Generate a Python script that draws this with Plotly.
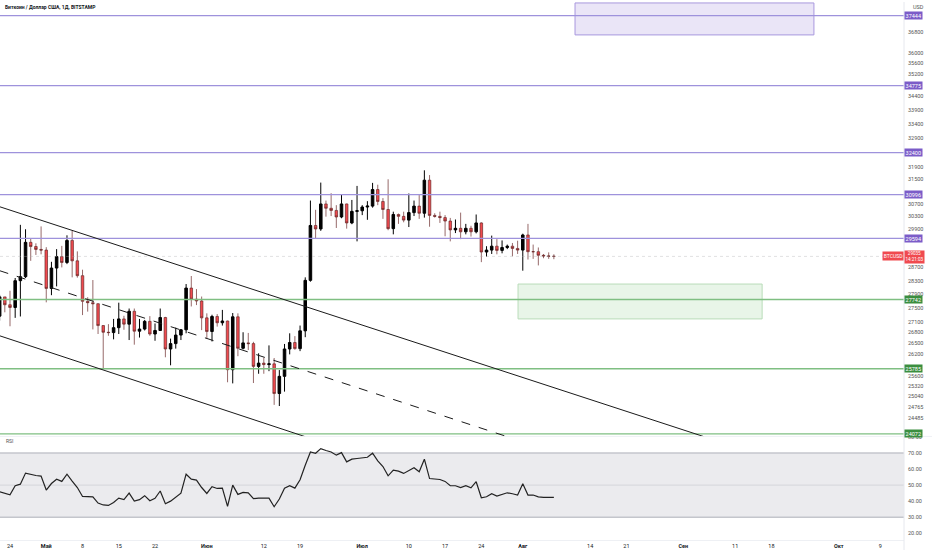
import numpy as np
import pandas as pd
import plotly.graph_objects as go

# ---- data (BTC/USD daily, Bitstamp) ----
dates = pd.date_range("2023-04-22", "2023-08-07", freq="D")

opens = [
    27260, 27820, 27590, 27510, 28300, 28420, 29470, 29340, 29250,
    29230, 28070, 28680, 29030, 28850, 29530, 28900, 28450, 27690, 27650,
    27620, 26990, 26800, 26790, 26930, 27180, 27030, 27400, 26830, 26890,
    27110, 26750, 26850, 27220, 26330, 26480, 26720, 26870, 28080, 27750, 27700,
    27210, 26820, 27250, 27070, 27120, 25760, 27240, 26350, 26500, 26480,
    25850, 25940, 25900, 25920, 25120, 25580, 26330, 26510, 26340, 26840,
    28310, 30000, 29890, 30690, 30550, 30480, 30270, 30690, 30080, 30450,
    30470, 30590, 30620, 31160, 30770, 30510, 29900, 30350, 30290, 30170,
    30410, 30620, 30390, 31470, 30320, 30290, 30250, 30140, 29860, 29910,
    29800, 29910, 29800, 30080, 29170, 29230, 29350, 29220, 29310, 29350, 29280,
    29230, 29700, 29180, 29180, 29070, 29050, 29040,
]
highs = [
    27880, 27820, 28000, 28380, 30020, 29880, 29590, 29440, 29970,
    29320, 28870, 29260, 29360, 29690, 29830, 29190, 28630, 27810, 28320,
    27630, 27000, 27030, 27180, 27650, 27270, 27480, 27480, 27180, 27150,
    27260, 27050, 27480, 27240, 26620, 26930, 26890, 28200, 28440, 28050, 27830,
    27340, 27300, 27320, 27440, 27130, 27350, 27340, 26800, 26780, 26530,
    26210, 26090, 26430, 26080, 25750, 26470, 26770, 26690, 26990, 28400,
    30800, 30500, 31390, 30800, 31040, 30650, 31000, 30700, 30820, 31280,
    30650, 30780, 31380, 31320, 30880, 31500, 30440, 30380, 30440, 31030,
    30800, 30980, 31800, 31640, 30390, 30440, 30330, 30240, 30190, 30410,
    30050, 29990, 30350, 30100, 29350, 29680, 29570, 29530, 29400, 29450, 29520,
    29740, 30050, 29400, 29310, 29110, 29160, 29100,
]
lows = [
    27130, 27370, 26970, 27210, 27250, 28380, 28900, 29080, 29100,
    27660, 27870, 28130, 28700, 28800, 28400, 28390, 27290, 27390, 26880,
    26750, 25800, 26700, 26600, 26750, 26870, 26580, 26450, 26650, 26850,
    26700, 26560, 26850, 26100, 25880, 26340, 26580, 26770, 27540, 27580, 26860,
    26620, 26540, 26960, 26990, 25420, 25390, 26130, 26320, 26300, 25400,
    25650, 25650, 25720, 24820, 24790, 25170, 26180, 26310, 26270, 26660,
    28270, 29600, 29830, 30280, 30300, 29920, 30230, 29900, 30040, 29500,
    30330, 30180, 30570, 30650, 30210, 29850, 29720, 30050, 30100, 29950,
    30300, 30210, 30250, 29960, 30250, 30080, 29660, 29500, 29760, 29570,
    29720, 29650, 29750, 28860, 29030, 29110, 29100, 29130, 29260, 29040, 29110,
    28600, 28940, 28960, 28760, 28980, 28960, 28950,
]
closes = [
    27820, 27590, 27510, 28300, 28420, 29470, 29340, 29250, 29230,
    28070, 28680, 29030, 28850, 29530, 28900, 28450, 27690, 27650, 27620,
    26990, 26800, 26790, 26930, 27180, 27030, 27400, 26830, 26890, 27110,
    26750, 26850, 27220, 26330, 26480, 26720, 26870, 28080, 27750, 27700, 27210,
    26820, 27250, 27070, 27120, 25760, 27240, 26350, 26500, 26480, 25850,
    25940, 25900, 25920, 25120, 25580, 26330, 26510, 26340, 26840, 28310,
    30000, 29890, 30690, 30550, 30480, 30270, 30690, 30080, 30450, 30470,
    30590, 30620, 31160, 30770, 30510, 29900, 30350, 30290, 30170, 30410,
    30620, 30390, 31470, 30320, 30290, 30250, 30140, 29860, 29910, 29800,
    29910, 29800, 30080, 29170, 29230, 29350, 29220, 29310, 29350, 29280, 29230,
    29700, 29180, 29180, 29070, 29050, 29040, 29035,
]
rsi = [
    45.9, 45.0, 44.0, 49.6, 50.6, 57.5, 56.6, 56.0, 55.6,
    46.9, 51.0, 53.7, 52.3, 56.8, 52.5, 48.5, 42.9, 42.9, 42.7,
    38.8, 37.6, 37.3, 39.2, 41.9, 40.9, 45.0, 40.0, 40.9, 43.4,
    40.2, 41.7, 46.3, 38.4, 40.0, 42.7, 45.0, 56.8, 53.7, 53.1, 48.5,
    44.8, 49.0, 47.9, 48.1, 36.7, 50.0, 44.2, 45.4, 45.2, 41.5,
    41.9, 41.9, 41.9, 36.5, 41.3, 48.1, 49.6, 48.1, 53.3, 62.4,
    70.7, 69.9, 72.8, 71.6, 70.7, 68.7, 70.3, 64.5, 66.2, 66.6,
    67.0, 67.4, 69.9, 65.1, 61.6, 55.8, 59.3, 58.7, 57.3, 59.1,
    60.8, 58.3, 66.2, 54.1, 53.9, 53.5, 52.3, 49.6, 49.6, 48.5,
    49.6, 48.3, 52.1, 42.1, 42.7, 44.6, 43.2, 44.2, 45.2, 44.6, 43.8,
    50.8, 43.8, 43.8, 42.7, 42.3, 42.3, 42.3,
]

last_price = 29035
last_price_text = "29035"
countdown = "14:21:03"

# horizontal levels drawn on the chart
purple_levels = [37444, 34775, 32400, 30996, 29594]
green_levels = [27742, 25785, 24072]

# rectangles: (start, end, low, high)
purple_zone = ("2023-08-11 02:00", "2023-09-26 05:00", 36690, 37950)
green_zone = ("2023-07-31 02:00", "2023-09-16 05:00", 27180, 28200)

# descending channel drawn on the chart: (date0, price0, date1, price1)
channel_upper = ("2023-04-22", 30600, "2023-09-05", 24000)
channel_mid = ("2023-04-22", 28600, "2023-07-29", 24000)
channel_lower = ("2023-04-22", 26700, "2023-06-20", 24000)

price_ticks = [36800, 36000, 35600, 35200, 34400, 33900, 33400, 32900,
               31900, 31500, 30700, 30300, 29900, 28700, 28300, 27900,
               27500, 27100, 26800, 26500, 26200, 25600, 25320, 25040,
               24765, 24485]
rsi_ticks = [20, 30, 40, 50, 60, 70, 80]

date_ticks = ["2023-04-24", "2023-05-01", "2023-05-08", "2023-05-15",
              "2023-05-22", "2023-06-01", "2023-06-12", "2023-06-19",
              "2023-07-01", "2023-07-10", "2023-07-17", "2023-07-24",
              "2023-08-01", "2023-08-14", "2023-08-21", "2023-09-01",
              "2023-09-11", "2023-09-18", "2023-10-01", "2023-10-09"]
date_labels = ["24", "<b>Май</b>", "8", "15", "22", "<b>Июн</b>", "12", "19",
               "<b>Июл</b>", "10", "17", "24", "<b>Авг</b>", "14", "21",
               "<b>Сен</b>", "11", "18", "<b>Окт</b>", "9"]

# ---- layout geometry ----
W, H = 932, 550
X_RIGHT = 904 / W
PRICE_DOM = [1 - 436 / H, 1.0]
RSI_DOM = [1 - 540 / H, 1 - 436 / H]
X_RANGE = ["2023-04-22 01:40", "2023-10-13 14:20"]
Y_RANGE = [np.log10(24007), np.log10(37988)]

FONT = "Roboto, 'Liberation Sans', sans-serif"
PURPLE_LINE = "#9e92dc"
PURPLE_TAG = "#7b5cc8"
GREEN_LINE = "#7fbf82"
GREEN_TAG = "#3b8e3f"
RED = "#f04a4f"

fig = go.Figure()

# zones
for x0, x1, lo, hi, fill, edge in [
    (*purple_zone, "rgba(149,125,215,0.20)", "#a898de"),
    (*green_zone, "rgba(76,175,80,0.13)", "#b9dcb9"),
]:
    fig.add_trace(go.Scatter(
        x=[x0, x1, x1, x0, x0], y=[lo, lo, hi, hi, lo],
        mode="lines", fill="toself", fillcolor=fill,
        line=dict(color=edge, width=1), hoverinfo="skip", showlegend=False,
    ))

# horizontal levels
for lvl in purple_levels:
    fig.add_trace(go.Scatter(
        x=X_RANGE, y=[lvl, lvl], mode="lines",
        line=dict(color=PURPLE_LINE, width=1.2), hoverinfo="skip", showlegend=False,
    ))
for lvl in green_levels:
    fig.add_trace(go.Scatter(
        x=X_RANGE, y=[lvl, lvl], mode="lines",
        line=dict(color=GREEN_LINE, width=1.4), hoverinfo="skip", showlegend=False,
    ))

# last price line
fig.add_trace(go.Scatter(
    x=X_RANGE, y=[last_price, last_price], mode="lines",
    line=dict(color="rgba(170,170,175,0.45)", width=0.8, dash="dot"),
    hoverinfo="skip", showlegend=False,
))

# candles
fig.add_trace(go.Candlestick(
    x=dates, open=opens, high=highs, low=lows, close=closes,
    increasing=dict(line=dict(color="#000000", width=1), fillcolor="#000000"),
    decreasing=dict(line=dict(color="#6a2a2a", width=0.7), fillcolor=RED),
    whiskerwidth=0, hoverinfo="skip", showlegend=False,
))

# channel
for d0, p0, d1, p1, dash in [
    (*channel_upper, "solid"), (*channel_mid, "dash"), (*channel_lower, "solid"),
]:
    fig.add_trace(go.Scatter(
        x=[d0, d1], y=[p0, p1], mode="lines",
        line=dict(color="#1a1a1a", width=1, dash=dash),
        hoverinfo="skip", showlegend=False,
    ))

# RSI
fig.add_trace(go.Scatter(
    x=dates, y=rsi, mode="lines", xaxis="x2", yaxis="y2",
    line=dict(color="#222222", width=1.2), hoverinfo="skip", showlegend=False,
))

shapes = [
    dict(type="rect", xref="paper", yref="y2", x0=0, x1=X_RIGHT, y0=30, y1=70,
         fillcolor="#ebebee", line=dict(width=0), layer="below"),
    dict(type="line", xref="paper", yref="y2", x0=0, x1=X_RIGHT, y0=70, y1=70,
         line=dict(color="#c4c6cc", width=1.5), layer="below"),
    dict(type="line", xref="paper", yref="y2", x0=0, x1=X_RIGHT, y0=30, y1=30,
         line=dict(color="#c4c6cc", width=1.5), layer="below"),
    dict(type="line", xref="paper", yref="y2", x0=0, x1=X_RIGHT, y0=50, y1=50,
         line=dict(color="#cfd1d6", width=0.8), layer="below"),
    dict(type="line", xref="paper", yref="paper", x0=X_RIGHT, x1=X_RIGHT, y0=0, y1=1,
         line=dict(color="#e6e8ee", width=1)),
    dict(type="line", xref="paper", yref="paper", x0=0, x1=1, y0=RSI_DOM[1], y1=RSI_DOM[1],
         line=dict(color="#eef0f4", width=1)),
]

annotations = []
for lvl, col in [(v, PURPLE_TAG) for v in purple_levels] + [(v, GREEN_TAG) for v in green_levels]:
    annotations.append(dict(
        xref="paper", yref="y", x=X_RIGHT, y=np.log10(lvl), xanchor="left",
        text=str(lvl), showarrow=False, bgcolor=col, borderpad=0.6,
        font=dict(family=FONT, size=5.5, color="white"),
    ))
annotations.append(dict(
    xref="paper", yref="y", x=X_RIGHT, y=np.log10(last_price), xanchor="right",
    text="BTCUSD", showarrow=False, bgcolor=RED, borderpad=0.8,
    font=dict(family=FONT, size=5, color="white"),
))
annotations.append(dict(
    xref="paper", yref="y", x=X_RIGHT, y=np.log10(last_price), xanchor="left",
    yanchor="middle", yshift=-1,
    text=f"{last_price_text}<br>{countdown}", showarrow=False, bgcolor=RED,
    borderpad=0.4, font=dict(family=FONT, size=4.6, color="white"),
))
annotations += [
    dict(xref="paper", yref="paper", x=3 / W, y=1 - 5 / H, xanchor="left",
         yanchor="middle", showarrow=False,
         text="<b>Биткоин / Доллар США, 1Д, BITSTAMP</b>",
         font=dict(family=FONT, size=5.0, color="#131722")),
    dict(xref="paper", yref="paper", x=918 / W, y=1 - 5 / H, xanchor="center",
         yanchor="middle", showarrow=False, text="USD",
         font=dict(family=FONT, size=5.5, color="#555555")),
    dict(xref="paper", yref="paper", x=4 / W, y=1 - 441 / H, xanchor="left",
         yanchor="middle", showarrow=False, text="RSI",
         font=dict(family=FONT, size=5, color="#555555")),
]

fig.update_layout(
    width=W, height=H,
    margin=dict(l=0, r=0, t=0, b=0),
    paper_bgcolor="white", plot_bgcolor="white",
    showlegend=False,
    shapes=shapes, annotations=annotations,
    xaxis=dict(
        domain=[0, X_RIGHT], range=X_RANGE, anchor="y", type="date",
        showticklabels=False, showgrid=False, zeroline=False, showline=False,
        rangeslider=dict(visible=False),
    ),
    xaxis2=dict(
        domain=[0, X_RIGHT], range=X_RANGE, anchor="y2", type="date", matches="x",
        tickvals=date_ticks, ticktext=date_labels, ticks="",
        tickfont=dict(family=FONT, size=5.5, color="#131722"),
        showgrid=False, zeroline=False, showline=True, linecolor="#eef0f4",
    ),
    yaxis=dict(
        domain=PRICE_DOM, type="log", range=Y_RANGE, anchor="x", side="right",
        tickvals=price_ticks, ticktext=[str(v) for v in price_ticks], ticks="",
        tickfont=dict(family=FONT, size=5.5, color="#555555"),
        ticklabelstandoff=3,
        showgrid=False, zeroline=False, showline=False,
    ),
    yaxis2=dict(
        domain=RSI_DOM, range=[15.7, 80.4], anchor="x2", side="right",
        tickvals=rsi_ticks, ticktext=[f"{v:.2f}" for v in rsi_ticks], ticks="",
        tickfont=dict(family=FONT, size=5.5, color="#555555"),
        ticklabelstandoff=3,
        showgrid=False, zeroline=False, showline=False,
    ),
)

# the page's default body margin would shift the figure by 8px
fig.write_html(
    "out.html",
    config={"displayModeBar": False},
    post_script="document.body.style.margin='0px';document.body.style.overflow='hidden';",
)
